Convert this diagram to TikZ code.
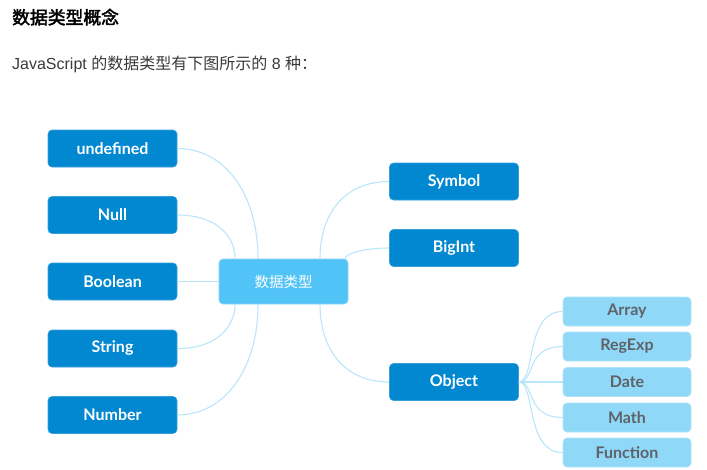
\documentclass[tikz,border=0pt]{standalone}
\usepackage{fontspec}
\setmainfont{Lato}
\newfontfamily\cjk{Noto Sans CJK SC}
\newfontfamily\cjkbold[FakeBold=2.5]{Noto Sans CJK SC}
\newfontfamily\arialish{Liberation Sans}
\usetikzlibrary{calc, positioning}
\definecolor{typebg}{HTML}{0288D1}
\definecolor{hubbg}{HTML}{52C3F7}
\definecolor{subbg}{HTML}{8FD8F8}
\definecolor{subtext}{HTML}{5F6368}
\definecolor{linkcolor}{HTML}{B8E6FA}
\definecolor{headtext}{HTML}{000000}
\definecolor{introtext}{HTML}{3A3A3A}

\begin{document}
\begin{tikzpicture}[
    x=1pt, y=-1pt,
    link/.style={draw=linkcolor, line width=1.1pt},
    typebox/.style={draw=typebg!80!white, fill=typebg, text=white, rounded corners=4pt, line width=0.6pt, minimum width=129pt, minimum height=37pt, font=\fontsize{16}{18}\selectfont\bfseries},
    hubbox/.style={draw=hubbg!70!white, fill=hubbg, text=white, rounded corners=4pt, line width=0.6pt, minimum width=129pt, minimum height=45pt, font=\fontsize{14.5}{16}\selectfont\cjk},
    subbox/.style={draw=subbg!70!white, fill=subbg, text=subtext, rounded corners=4pt, line width=0.6pt, minimum width=128pt, minimum height=29pt, font=\fontsize{16}{18}\selectfont\bfseries}
]
    \useasboundingbox (0,0) rectangle (707,469);

    % Heading
    \node[anchor=base west, inner sep=0pt, text=headtext, font=\fontsize{17.8}{20}\selectfont\cjkbold] (title) at (12,24) {数据类型概念};
    \node[anchor=base west, inner sep=0pt, text=introtext, font=\fontsize{16}{18}\selectfont\arialish] (intro) at (12,69)
        {JavaScript {\cjk 的数据类型有下图所示的} 8 {\cjk 种：}};

    % Hub
    \node[hubbox] (hub) at (283.5,281.5) {数据类型};

    % Left types
    \node[typebox] (undef) at (112.5,148.5) {undefined};
    \node[typebox] (null) at (112.5,215) {Null};
    \node[typebox] (bool) at (112.5,281.5) {Boolean};
    \node[typebox] (str) at (112.5,348.5) {String};
    \node[typebox] (num) at (112.5,415) {Number};

    % Right types
    \node[typebox] (sym) at (454,181.5) {Symbol};
    \node[typebox] (bigint) at (454,248) {BigInt};
    \node[typebox] (obj) at (454,382) {Object};

    % Object kinds
    \node[subbox] (arr) at (627,311.5) {Array};
    \node[subbox] (regexp) at (627,346.5) {RegExp};
    \node[subbox] (date) at (627,382) {Date};
    \node[subbox] (math) at (627,417.5) {Math};
    \node[subbox] (func) at (627,452.5) {Function};

    % Attach points on the hub
    \coordinate (hubUL) at ($(hub.north)+(-25.5,0)$);
    \coordinate (hubULL) at ($(hub.north)+(-48.5,0)$);
    \coordinate (hubBL) at ($(hub.south)+(-25.5,0)$);
    \coordinate (hubBLL) at ($(hub.south)+(-48.5,0)$);
    \coordinate (hubUR) at ($(hub.north)+(36.5,0)$);
    \coordinate (hubURR) at ($(hub.north)+(61.5,0)$);
    \coordinate (hubBR) at ($(hub.south)+(36.5,0)$);

    % Left links
    \draw[link] (undef.east) .. controls ($(undef.east)+(48,0)$) and ($(hubUL)+(0,-64)$) .. (hubUL);
    \draw[link] (null.east) .. controls ($(null.east)+(40,0)$) and ($(hubULL)+(0,-22)$) .. (hubULL);
    \draw[link] (bool.east) -- (hub.west);
    \draw[link] (str.east) .. controls ($(str.east)+(40,0)$) and ($(hubBLL)+(0,22)$) .. (hubBLL);
    \draw[link] (num.east) .. controls ($(num.east)+(48,0)$) and ($(hubBL)+(0,64)$) .. (hubBL);

    % Right links
    \draw[link] (sym.west) .. controls ($(sym.west)+(-45,0)$) and ($(hubUR)+(0,-45)$) .. (hubUR);
    \draw[link] (bigint.west) .. controls ($(bigint.west)+(-25,0)$) and ($(hubURR)+(0,-5)$) .. (hubURR);
    \draw[link] (obj.west) .. controls ($(obj.west)+(-45,0)$) and ($(hubBR)+(0,45)$) .. (hubBR);

    % Object links
    \foreach \kid in {arr, regexp, math, func}
        \draw[link] (obj.east) .. controls ($(obj.east)+(17,0)$) and ($(\kid.west)+(-38,0)$) .. (\kid.west);
    \draw[link] (obj.east) -- (date.west);

\end{tikzpicture}
\end{document}
